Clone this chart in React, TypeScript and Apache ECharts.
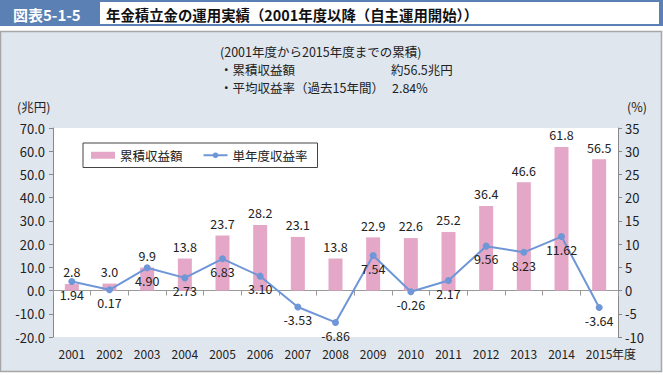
import React, { useEffect, useRef } from "react";
import * as echarts from "echarts";

const years = ["2001", "2002", "2003", "2004", "2005", "2006", "2007", "2008", "2009", "2010", "2011", "2012", "2013", "2014", "2015"];
const cumulativeReturn = [2.8, 3.0, 9.9, 13.8, 23.7, 28.2, 23.1, 13.8, 22.9, 22.6, 25.2, 36.4, 46.6, 61.8, 56.5];
const annualRate = [1.94, 0.17, 4.9, 2.73, 6.83, 3.1, -3.53, -6.86, 7.54, -0.26, 2.17, 9.56, 8.23, 11.62, -3.64];
const leftAxis = { min: -20, max: 70, interval: 10 };
const rightAxis = { min: -10, max: 35, interval: 5 };

const FONT = "'Noto Sans CJK JP', 'Noto Sans', sans-serif";

export default function App() {
  const ref = useRef<HTMLDivElement>(null);
  useEffect(() => {
    document.body.style.margin = "0";
    const chart = echarts.init(ref.current!, undefined, { renderer: "svg" });
    const txt = (x: number, y: number, text: string, extra: any = {}) => ({
      type: "text",
      x,
      y,
      style: {
        text,
        fill: "#222",
        font: `12.5px ${FONT}`,
        verticalAlign: "middle",
        ...extra,
      },
    });
    chart.setOption({
      animation: false,
      textStyle: { fontFamily: FONT },
      graphic: [
        { type: "rect", z: -10, shape: { x: 0, y: 0, width: 663, height: 26 }, style: { fill: "#5b80b4" } },
        { type: "rect", z: -9, shape: { x: 100, y: 2, width: 559, height: 22 }, style: { fill: "#ffffff" } },
        { type: "rect", z: -10, shape: { x: 0.5, y: 31.5, width: 661, height: 340 }, style: { fill: "#dfe6ee", stroke: "#a6a6a6", lineWidth: 1.5 } },
        txt(13, 14, "図表5-1-5", { fill: "#ffffff", font: `bold 15px ${FONT}` }),
        txt(106, 14, "年金積立金の運用実績（2001年度以降（自主運用開始））", { fill: "#111", font: `bold 14.4px ${FONT}` }),
        txt(220, 51, "(2001年度から2015年度までの累積)"),
        txt(220, 69, "・累積収益額"),
        txt(391, 69, "約56.5兆円"),
        txt(220, 87, "・平均収益率（過去15年間）"),
        txt(392, 87, "2.84%"),
        txt(17, 106, "(兆円)"),
        txt(627, 106, "(%)"),
        txt(612, 353, "年度", { font: `12px ${FONT}` }),
      ],
      grid: {
        left: 53,
        right: 45,
        top: 128,
        bottom: 38,
        show: true,
        backgroundColor: "#ffffff",
        borderWidth: 0,
      },
      legend: {
        left: 83,
        top: 143,
        backgroundColor: "#ffffff",
        borderColor: "#444",
        borderWidth: 1,
        padding: [6, 10, 6, 8],
        itemGap: 20,
        itemWidth: 24,
        itemHeight: 7,
        textStyle: { fontSize: 12.5, color: "#222", fontFamily: FONT },
        data: [
          { name: "累積収益額", icon: "rect" },
          { name: "単年度収益率" },
        ],
      },
      xAxis: [
        {
          type: "category",
          data: years,
          position: "bottom",
          axisLine: { onZero: true, onZeroAxisIndex: 0, lineStyle: { color: "#999" } },
          axisTick: { show: true, length: 5, alignWithLabel: false, lineStyle: { color: "#999" } },
          axisLabel: { show: false },
          splitLine: { show: false },
        },
        {
          type: "category",
          data: years,
          position: "bottom",
          axisLine: { show: false, onZero: false },
          axisTick: { show: false },
          axisLabel: { show: true, fontSize: 12, color: "#222", margin: 10, fontFamily: FONT },
          splitLine: { show: false },
        },
      ],
      yAxis: [
        {
          type: "value",
          min: leftAxis.min,
          max: leftAxis.max,
          interval: leftAxis.interval,
          position: "left",
          axisLine: { show: true, lineStyle: { color: "#888" } },
          axisTick: { show: true, length: 4, lineStyle: { color: "#888" } },
          axisLabel: { fontSize: 13, color: "#222", margin: 8, formatter: (v: number) => v.toFixed(1), fontFamily: FONT },
          splitLine: { show: false },
        },
        {
          type: "value",
          min: rightAxis.min,
          max: rightAxis.max,
          interval: rightAxis.interval,
          position: "right",
          axisLine: { show: true, lineStyle: { color: "#888" } },
          axisTick: { show: true, length: 4, lineStyle: { color: "#888" } },
          axisLabel: { fontSize: 13, color: "#222", margin: 7, fontFamily: FONT },
          splitLine: { show: false },
        },
      ],
      series: [
        {
          name: "累積収益額",
          type: "bar",
          xAxisIndex: 0,
          yAxisIndex: 0,
          data: cumulativeReturn,
          barWidth: 14,
          itemStyle: { color: "#e4a7c7" },
          label: {
            show: true,
            position: "top",
            distance: 6,
            fontSize: 12.5,
            color: "#222",
            fontFamily: FONT,
            formatter: (p: any) => Number(p.value).toFixed(1),
          },
        },
        {
          name: "単年度収益率",
          type: "line",
          xAxisIndex: 0,
          yAxisIndex: 1,
          data: annualRate,
          symbol: "circle",
          symbolSize: 7,
          lineStyle: { color: "#6f96d6", width: 2 },
          itemStyle: { color: "#6f96d6" },
          label: {
            show: true,
            position: "bottom",
            distance: 3,
            fontSize: 12.5,
            color: "#222",
            fontFamily: FONT,
            formatter: (p: any) => Number(p.value).toFixed(2),
          },
        },
      ],
    });
    return () => chart.dispose();
  }, []);
  return <div ref={ref} style={{ width: 663, height: 375 }} />;
}
